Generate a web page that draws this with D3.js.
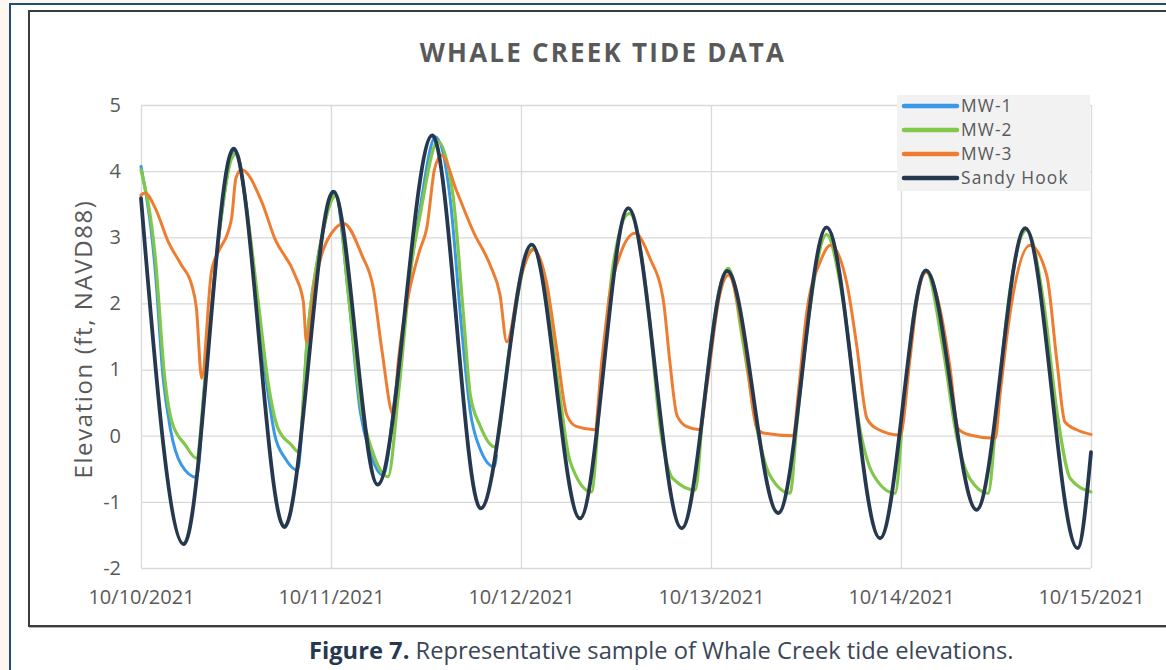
<!DOCTYPE html>
<html>
<head>
<meta charset="utf-8">
<script src="https://cdn.jsdelivr.net/npm/d3@7"></script>
<style>
  body { margin: 0; background: #fdf7f0; }
  svg { display: block; }
  text { font-family: "Century Gothic", "Open Sans", sans-serif; }
</style>
</head>
<body>
<script>
// Data: hours after 10/10/2021 00:00 and elevation (ft, NAVD88)
var mw1Hours = [0, 1.8, 2.8, 3.7, 5.1, 7.0, 8.1, 9.8, 11.85, 13.1, 14.6, 15.9, 16.9, 18.2, 19.75, 21.1, 22.8, 24.5, 26.2, 27.7, 28.9, 30.6, 32.1, 34.2, 35.2, 37.2, 39.0, 40.5, 41.6, 42.8, 44.6, 44.9];
var mw1Values = [4.07, 2.5, 0.87, 0.11, -0.44, -0.63, 0.87, 2.98, 4.32, 3.64, 2.03, 0.77, 0.01, -0.34, -0.52, 1.62, 2.98, 3.69, 2.13, 0.36, -0.24, -0.60, 0.61, 2.63, 3.4, 4.52, 3.64, 1.62, 0.36, -0.19, -0.47, -0.3];

var mw2Hours = [0, 1.8, 3.0, 3.9, 5.6, 7.0, 8.1, 9.8, 11.45, 12.1, 13.1, 14.8, 16.1, 17.3, 19.0, 19.85, 21.1, 22.8, 24.7, 26.2, 27.9, 29.1, 31.2, 32.5, 34.2, 35.2, 37.5, 39.4, 40.7, 41.6, 42.8, 44.7, 46.6, 48.3, 49.6, 51.2, 52.9, 54.2, 56.9, 58.0, 59.7, 61.7, 63.9, 65.6, 67.2, 70.0, 71.0, 73.1, 74.2, 76.1, 77.8, 79.4, 82.0, 82.8, 84.5, 86.6, 88.7, 90.8, 92.5, 95.25, 96.3, 97.6, 99.2, 101.3, 103.0, 104.7, 107.0, 108.1, 109.8, 111.9, 114.0, 115.7, 117.4, 120];
var mw2Values = [4.02, 2.7, 0.87, 0.21, -0.14, -0.34, 0.87, 2.98, 4.19, 4.27, 3.64, 2.03, 0.77, 0.11, -0.14, -0.24, 1.62, 2.98, 3.64, 2.13, 0.36, -0.19, -0.62, 0.61, 2.63, 3.3, 4.45, 3.64, 1.87, 0.61, 0.16, -0.17, 1.37, 2.53, 2.83, 2.13, 0.61, -0.39, -0.85, 0.61, 2.63, 3.36, 2.13, 0.11, -0.65, -0.82, 0.36, 2.23, 2.53, 1.37, 0.11, -0.59, -0.87, 0.11, 1.93, 3.04, 2.03, 0.11, -0.59, -0.87, 0.36, 1.82, 2.48, 1.32, 0.01, -0.65, -0.87, 0.36, 2.23, 3.11, 2.03, 0.36, -0.65, -0.85];

var mw3Hours = [0, 0.5, 1.8, 3.45, 5.1, 6.4, 7.0, 7.66, 8.9, 9.77, 11.0, 11.45, 12.0, 12.7, 15.24, 16.9, 19.45, 20.5, 20.9, 22.0, 22.8, 24.5, 25.6, 27.9, 29.35, 30.4, 31.9, 32.5, 33.8, 35.2, 36.1, 37.1, 37.97, 39.9, 42.0, 44.1, 45.35, 46.2, 47.9, 49.6, 51.2, 52.5, 53.8, 55.0, 57.3, 58.2, 59.2, 60.5, 62.4, 64.3, 66.0, 66.8, 67.7, 68.9, 70.6, 71.5, 73.1, 74.2, 76.1, 77.8, 78.6, 82.4, 83.0, 84.1, 85.8, 87.1, 89.2, 90.4, 91.7, 92.9, 95.9, 97.1, 98.0, 99.2, 100.9, 102.2, 103.2, 104.7, 107.9, 108.5, 109.8, 112.3, 114.4, 115.7, 116.7, 118.2, 120];
var mw3Values = [3.64, 3.67, 3.44, 2.93, 2.58, 2.28, 1.93, 0.87, 2.48, 2.78, 3.08, 3.29, 3.9, 4.02, 3.54, 2.98, 2.43, 2.03, 1.42, 2.33, 2.73, 3.13, 3.21, 2.73, 2.23, 1.32, 0.31, 1.12, 2.13, 2.8, 3.14, 4.04, 4.24, 3.69, 3.08, 2.58, 2.13, 1.42, 2.38, 2.81, 2.33, 1.32, 0.31, 0.14, 0.09, 1.12, 2.13, 2.73, 3.06, 2.68, 2.03, 1.12, 0.31, 0.14, 0.09, 0.77, 2.13, 2.43, 1.52, 0.11, 0.04, 0.0, 0.61, 1.87, 2.63, 2.88, 2.28, 1.37, 0.26, 0.11, 0.01, 1.12, 2.03, 2.47, 1.93, 1.02, 0.11, 0.01, -0.04, 0.61, 1.87, 2.88, 2.43, 1.12, 0.21, 0.09, 0.02];

var sandyHours = [0, 5.4, 11.7, 18.1, 24.3, 29.9, 36.8, 42.9, 49.35, 55.45, 61.55, 68.3, 74.05, 80.5, 86.6, 93.35, 99.15, 105.55, 111.7, 118.3, 120];
var sandyValues = [3.59, -1.64, 4.34, -1.38, 3.69, -0.74, 4.54, -1.10, 2.89, -1.25, 3.44, -1.40, 2.49, -1.17, 3.15, -1.55, 2.50, -1.12, 3.14, -1.70, -0.25];

var seriesNames = ["MW-1", "MW-2", "MW-3", "Sandy Hook"];
var seriesColors = ["#3a98e6", "#80c74a", "#ee7d31", "#263850"];
var yTicks = [-2, -1, 0, 1, 2, 3, 4, 5];
var xTickLabels = ["10/10/2021", "10/11/2021", "10/12/2021", "10/13/2021", "10/14/2021", "10/15/2021"];

var WIDTH = 1166, HEIGHT = 670;
var margin = {left: 141, right: 75, top: 105, bottom: 102};
var start = new Date(2021, 9, 10);
var end = new Date(2021, 9, 15);

function toDate(h) { return new Date(start.getTime() + h * 3600 * 1000); }
function zip(hours, values) {
    return hours.map(function(h, i) { return {date: toDate(h), v: values[i]}; });
}

var series = [
    zip(mw1Hours, mw1Values),
    zip(mw2Hours, mw2Values),
    zip(mw3Hours, mw3Values),
    zip(sandyHours, sandyValues)
];

var svg = d3.select("body").append("svg").attr("width", WIDTH).attr("height", HEIGHT);

// page frame + chart box
svg.append("rect").attr("x", 10).attr("y", 4).attr("width", 1200).attr("height", 700)
    .attr("fill", "#fff").attr("stroke", "#1f4e79").attr("stroke-width", 2);
svg.append("rect").attr("x", 30).attr("y", 12).attr("width", 1200).attr("height", 615)
    .attr("fill", "none").attr("stroke", "#b0b0b0").attr("stroke-width", 2);
svg.append("rect").attr("x", 29).attr("y", 11).attr("width", 1200).attr("height", 615)
    .attr("fill", "#fff").attr("stroke", "#3c3c3c").attr("stroke-width", 2);

var x = d3.scaleTime().domain([start, end]).range([margin.left, WIDTH - margin.right]);
var y = d3.scaleLinear().domain([-2, 5]).range([HEIGHT - margin.bottom, margin.top]);
var plotW = WIDTH - margin.right - margin.left;
var plotH = HEIGHT - margin.bottom - margin.top;

// Y axis + horizontal gridlines
var yAxis = svg.append("g").attr("transform", "translate(" + margin.left + ",0)")
    .call(d3.axisLeft(y).tickValues(yTicks).tickSize(-plotW).tickPadding(20)
        .tickFormat(function(d) { return String(d); }));
yAxis.select(".domain").remove();
yAxis.selectAll("line").attr("stroke", "#d9d9d9").attr("stroke-width", 1.3);
yAxis.selectAll("text").attr("fill", "#595959").attr("font-size", 20).attr("font-family", null);

// X axis + vertical gridlines
var xDates = xTickLabels.map(function(d, i) { return d3.timeDay.offset(start, i); });
var xAxis = svg.append("g").attr("transform", "translate(0," + (HEIGHT - margin.bottom) + ")")
    .call(d3.axisBottom(x).tickValues(xDates).tickSize(-plotH).tickPadding(22)
        .tickFormat(function(d, i) { return xTickLabels[i]; }));
xAxis.select(".domain").remove();
xAxis.selectAll("line").attr("stroke", "#d9d9d9").attr("stroke-width", 1.3);
xAxis.selectAll("text").attr("fill", "#595959").attr("font-size", 20).attr("font-family", null);

// lines
var line = d3.line()
    .x(function(d) { return x(d.date); })
    .y(function(d) { return y(d.v); })
    .curve(d3.curveMonotoneX);
var widths = [3, 3.2, 3, 3.8];
svg.selectAll("path.series").data(series).enter().append("path")
    .attr("class", "series")
    .attr("d", line)
    .attr("fill", "none")
    .attr("stroke", function(d, i) { return seriesColors[i]; })
    .attr("stroke-width", function(d, i) { return widths[i]; })
    .attr("stroke-linejoin", "round")
    .attr("stroke-linecap", "round");

// legend
var legend = svg.append("g").attr("transform", "translate(897,95)");
legend.append("rect").attr("width", 193).attr("height", 96).attr("fill", "#f2f2f2");
var rows = legend.selectAll("g.row").data(seriesNames).enter().append("g")
    .attr("transform", function(d, i) { return "translate(0," + (11 + i * 24) + ")"; });
rows.append("line").attr("x1", 7).attr("x2", 60).attr("y1", 0).attr("y2", 0)
    .attr("stroke", function(d, i) { return seriesColors[i]; })
    .attr("stroke-width", 4.5).attr("stroke-linecap", "round");
rows.append("text").attr("x", 64).attr("y", 0).attr("dy", "0.35em")
    .attr("font-size", 17.4).attr("letter-spacing", 1.1).attr("fill", "#595959")
    .text(function(d) { return d; });

// title
svg.append("text").attr("x", 603).attr("y", 62).attr("text-anchor", "middle")
    .attr("font-size", 26).attr("font-weight", "bold").attr("letter-spacing", 2.2)
    .attr("fill", "#595959").text("WHALE CREEK TIDE DATA");

// y title
svg.append("text").attr("transform", "translate(92,339) rotate(-90)").attr("text-anchor", "middle")
    .attr("font-size", 24).attr("letter-spacing", 1.6).attr("fill", "#595959")
    .text("Elevation (ft, NAVD88)");

// caption
var cap = svg.append("text").attr("x", 309).attr("y", 659).attr("font-size", 23.7).attr("fill", "#3b4657");
cap.append("tspan").attr("font-weight", "bold").attr("fill", "#263850").text("Figure 7.");
cap.append("tspan").text(" Representative sample of Whale Creek tide elevations.");
</script>
</body>
</html>
